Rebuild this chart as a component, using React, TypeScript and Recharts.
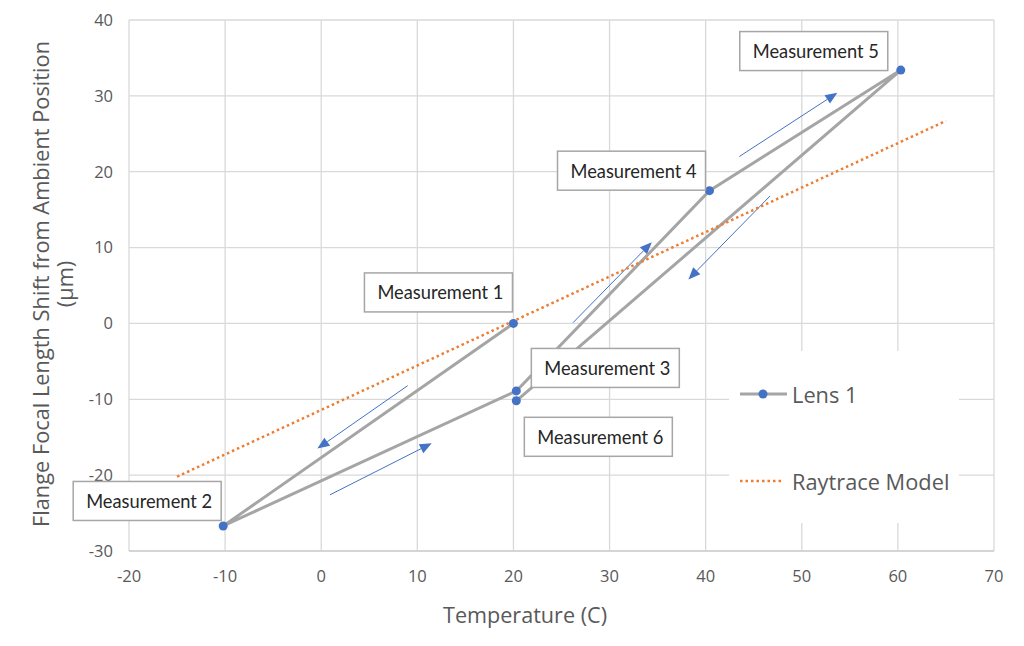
import { CartesianGrid, LabelList, Legend, Line, LineChart, ReferenceLine, XAxis, YAxis } from "recharts";

const measurementNames = [
  "Measurement 1",
  "Measurement 2",
  "Measurement 3",
  "Measurement 4",
  "Measurement 5",
  "Measurement 6",
];
const lensTemps = [20.0, -10.2, 20.3, 40.4, 60.3, 20.3];
const lensShifts = [0.0, -26.7, -8.9, 17.5, 33.4, -10.2];

const raytraceTemps = [-15, 65];
const raytraceShifts = [-20.2, 26.7];

const xTicks = [-20, -10, 0, 10, 20, 30, 40, 50, 60, 70];
const yTicks = [-30, -20, -10, 0, 10, 20, 30, 40];

// direction arrows, tail -> head, in chart units
const arrowTails = [
  [9.0, -8.2],
  [0.9, -22.6],
  [26.2, 0.1],
  [43.5, 22.0],
  [46.7, 16.8],
];
const arrowHeads = [
  [-0.4, -16.5],
  [11.5, -15.8],
  [34.4, 10.7],
  [53.7, 30.4],
  [38.2, 5.8],
];

const lensData = lensTemps.map((x, i) => ({ x, y: lensShifts[i], name: measurementNames[i] }));
const raytraceData = raytraceTemps.map((x, i) => ({ x, y: raytraceShifts[i] }));

// where each label box sits relative to its point (px)
const boxOffsets = [
  [-75, -31],
  [-76, -25],
  [89, -23],
  [-78, -20],
  [-87, -19],
  [82, 36],
];

const FONT = "'Open Sans', sans-serif";
const BOX_FONT = "Lato, sans-serif";
const GREY_TEXT = "#595959";
const BLUE = "#4472c4";

function MeasurementBox(props: any) {
  const { x, y, index, value } = props;
  const [dx, dy] = boxOffsets[index];
  const w = 148;
  const h = 39;
  const cx = x + dx;
  const cy = y + dy;
  return (
    <g>
      <rect x={cx - w / 2} y={cy - h / 2} width={w} height={h} fill="#fff" stroke="#a6a6a6" strokeWidth={1.5} />
      <text x={cx + 2} y={cy} textAnchor="middle" dominantBaseline="central" fontSize={18.3} fill="#262626" fontFamily={BOX_FONT}>
        {value}
      </text>
    </g>
  );
}

function Arrow(props: any) {
  const { x1, y1, x2, y2 } = props;
  const ang = Math.atan2(y2 - y1, x2 - x1);
  const len = 12;
  const half = 5;
  const bx = x2 - len * Math.cos(ang);
  const by = y2 - len * Math.sin(ang);
  const px = -Math.sin(ang) * half;
  const py = Math.cos(ang) * half;
  return (
    <g>
      <line x1={x1} y1={y1} x2={bx} y2={by} stroke={BLUE} strokeWidth={1} />
      <polygon points={`${x2},${y2} ${bx + px},${by + py} ${bx - px},${by - py}`} fill={BLUE} />
    </g>
  );
}

function renderLegend() {
  const txt = { position: "absolute" as const, left: 63, transform: "translateY(-50%)", fontSize: 21.8, color: GREY_TEXT, lineHeight: 1 };
  return (
    <div style={{ width: 230, height: 172, background: "#fff", position: "relative", fontFamily: FONT }}>
      <svg width={60} height={172} style={{ position: "absolute", left: 0, top: 0 }}>
        <line x1={11} y1={43} x2={58} y2={43} stroke="#a5a5a5" strokeWidth={3} />
        <circle cx={34} cy={43} r={4.5} fill={BLUE} />
        <line x1={11} y1={130} x2={55} y2={130} stroke="#ed7d31" strokeWidth={2.5} strokeDasharray="2.5 3" />
      </svg>
      <div style={{ ...txt, top: 44 }}>Lens 1</div>
      <div style={{ ...txt, top: 131 }}>Raytrace Model</div>
    </div>
  );
}

function XTitle() {
  return (
    <text x={525} y={614} textAnchor="middle" dominantBaseline="central" fontSize={21.6} fill={GREY_TEXT} fontFamily={FONT}>
      Temperature (C)
    </text>
  );
}

function YTitle() {
  const cy = 284;
  return (
    <g fontSize={21.8} fill={GREY_TEXT} fontFamily={FONT}>
      <text x={40} y={cy} transform={`rotate(-90, 40, ${cy})`} textAnchor="middle" dominantBaseline="central">
        Flange Focal Length Shift from Ambient Position
      </text>
      <text x={64} y={cy} transform={`rotate(-90, 64, ${cy})`} textAnchor="middle" dominantBaseline="central">
        (µm)
      </text>
    </g>
  );
}

export default function App() {
  return (
    <div style={{ position: "absolute", left: 0, top: 0, width: 1024, height: 646, background: "#fff", fontFamily: FONT }}>
      <LineChart width={1024} height={646} margin={{ top: 20, right: 30, bottom: 0, left: 0 }}>
        <CartesianGrid stroke="#d9d9d9" strokeWidth={1.3} />
        <XAxis
          type="number"
          dataKey="x"
          domain={[-20, 70]}
          ticks={xTicks}
          interval={0}
          height={95}
          tickSize={0}
          tickMargin={19}
          tickLine={false}
          axisLine={{ stroke: "#d0d0d0", strokeWidth: 1.3 }}
          tick={{ fill: GREY_TEXT, fontSize: 16.5, fontFamily: FONT }}
          label={<XTitle />}
        />
        <YAxis
          type="number"
          domain={[-30, 40]}
          ticks={yTicks}
          interval={0}
          width={129}
          tickSize={0}
          tickMargin={16}
          tickLine={false}
          axisLine={false}
          tick={{ fill: GREY_TEXT, fontSize: 16.5, fontFamily: FONT }}
          label={<YTitle />}
        />
        {arrowTails.map((t, i) => (
          <ReferenceLine
            key={i}
            segment={[
              { x: t[0], y: t[1] },
              { x: arrowHeads[i][0], y: arrowHeads[i][1] },
            ]}
            shape={<Arrow />}
          />
        ))}
        <Line
          data={lensData}
          dataKey="y"
          name="Lens 1"
          stroke="#a5a5a5"
          strokeWidth={3}
          dot={{ r: 4.5, fill: BLUE, stroke: BLUE, strokeWidth: 0 }}
          activeDot={false}
          isAnimationActive={false}
        >
          <LabelList dataKey="name" content={<MeasurementBox />} />
        </Line>
        <Line
          data={raytraceData}
          dataKey="y"
          name="Raytrace Model"
          stroke="#ed7d31"
          strokeWidth={2.5}
          strokeDasharray="2.5 3"
          dot={false}
          activeDot={false}
          isAnimationActive={false}
        />
        <Legend
          layout="vertical"
          align="center"
          verticalAlign="middle"
          content={renderLegend}
          wrapperStyle={{ left: 729, top: 351, width: 230, height: 172 }}
        />
      </LineChart>
    </div>
  );
}
